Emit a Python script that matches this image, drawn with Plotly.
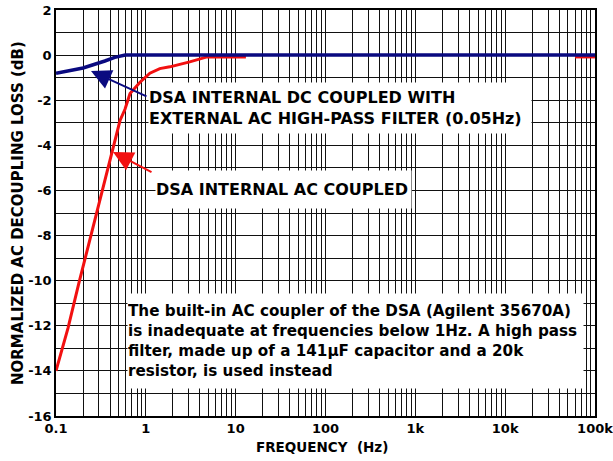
import math
import plotly.graph_objects as go

# ---- data ----
dc_freq = [0.1, 0.2, 0.35, 0.45, 0.59, 1, 10, 100, 1000, 10000, 100000]
dc_loss = [-0.8, -0.57, -0.26, -0.1, 0.0, 0.0, 0.0, 0.0, 0.0, 0.0, 0.0]

ac_freq = [0.1, 0.136, 0.18, 0.239, 0.317, 0.42, 0.516, 0.586, 0.667, 0.861,
           1.11, 1.43, 1.85, 3.08, 4.8, 13, None, 60000, 100000]
ac_loss = [-14.0, -12.1, -10.1, -8.15, -6.2, -4.2, -2.9, -2.4, -1.7, -1.2,
           -0.8, -0.6, -0.52, -0.3, -0.08, -0.08, None, -0.08, -0.08]

decades = [0.1, 1, 10, 100, 1000, 10000, 100000]
decade_labels = ["0.1", "1", "10", "100", "1k", "10k", "100k"]
y_ticks = list(range(-16, 3))
y_labels = [str(v) if v % 2 == 0 else "" for v in y_ticks]

label_dc = "DSA INTERNAL DC COUPLED WITH<br>EXTERNAL AC HIGH-PASS FILTER (0.05Hz)"
label_ac = "DSA INTERNAL AC COUPLED"
note = ("The built-in AC coupler of the DSA (Agilent 35670A)<br>"
        "is inadequate at frequencies below 1Hz. A high pass<br>"
        "filter, made up of a 141µF capacitor and a 20k<br>"
        "resistor, is used instead")

# x tick values: every 1..9 multiple per decade
x_ticks, x_text = [], []
for d, lab in zip(decades, decade_labels):
    mults = range(1, 10) if d < 100000 else [1]
    for m in mults:
        x_ticks.append(d * m)
        x_text.append(lab if m == 1 else "")

FONT = "DejaVu Sans"
NAVY = "#0a0a80"
RED = "#f21010"

fig = go.Figure()
fig.add_trace(go.Scatter(x=ac_freq, y=ac_loss, mode="lines",
                         line=dict(color=RED, width=3), connectgaps=False,
                         showlegend=False))
fig.add_trace(go.Scatter(x=dc_freq, y=dc_loss, mode="lines",
                         line=dict(color=NAVY, width=3.5), showlegend=False))

L, R, T, B = 56, 18, 10, 45
W, H = 613, 461
pw, ph = W - L - R, H - T - B


def px(xp):
    return (xp - L) / pw


def py(yp):
    return (H - B - yp) / ph


def dx(xp):
    return math.log10(0.1) + (xp - L) / pw * 6


def dy(yp):
    return 2 - (yp - T) / ph * 18


# text boxes
fig.add_annotation(xref="paper", yref="paper", x=px(148), y=py(82),
                   xanchor="left", yanchor="top", width=382, height=50,
                   text="<b>" + label_dc + "</b>", showarrow=False, align="left",
                   bgcolor="white", borderpad=0,
                   font=dict(family=FONT, size=16, color="black"))
fig.add_annotation(xref="paper", yref="paper", x=px(155), y=py(170),
                   xanchor="left", yanchor="top", width=255, height=37,
                   text="<b>" + label_ac + "</b>", showarrow=False, align="left",
                   bgcolor="white", borderpad=0,
                   font=dict(family=FONT, size=16, color="black"))
fig.add_annotation(xref="paper", yref="paper", x=px(127), y=py(293),
                   xanchor="left", yanchor="top", width=455, height=94,
                   text="<b>" + note + "</b>", showarrow=False, align="left",
                   bgcolor="white", borderpad=0,
                   font=dict(family=FONT, size=15.2, color="black"))

# arrows
fig.add_annotation(x=dx(91), y=dy(71), xref="x", yref="y", text="",
                   showarrow=True, arrowhead=2, arrowsize=2, arrowwidth=2,
                   arrowcolor=NAVY, ax=148 - 91, ay=97 - 71)
fig.add_annotation(x=dx(113), y=dy(152), xref="x", yref="y", text="",
                   showarrow=True, arrowhead=2, arrowsize=2, arrowwidth=2,
                   arrowcolor=RED, ax=153 - 113, ay=173 - 152)

# axis titles as free text
fig.add_annotation(xref="paper", yref="paper", x=px(322), y=py(447),
                   xanchor="center", yanchor="middle", showarrow=False,
                   text="<b>FREQUENCY  (Hz)</b>",
                   font=dict(family=FONT, size=13.5, color="black"))
fig.add_annotation(xref="paper", yref="paper", x=px(18), y=py(213),
                   xanchor="center", yanchor="middle", showarrow=False,
                   textangle=-90,
                   text="<b>NORMALIZED AC DECOUPLING LOSS (dB)</b>",
                   font=dict(family=FONT, size=15, color="black"))

tickfont = dict(family=FONT, size=13, color="black", weight="bold")
fig.update_layout(
    width=W, height=H,
    margin=dict(l=L, r=R, t=T, b=B),
    paper_bgcolor="white", plot_bgcolor="white",
    xaxis=dict(type="log", range=[-1, 5], tickvals=x_ticks, ticktext=x_text,
               showgrid=True, gridcolor="#111", gridwidth=1,
               showline=True, mirror=True, linecolor="black", linewidth=1.5,
               ticks="", tickfont=tickfont, zeroline=False, automargin=False,
               ticklabeloverflow="allow"),
    yaxis=dict(range=[-16, 2], tickvals=y_ticks, ticktext=y_labels,
               showgrid=True, gridcolor="#111", gridwidth=1,
               showline=True, mirror=True, linecolor="black", linewidth=1.5,
               ticks="", tickfont=tickfont, zeroline=False, automargin=False,
               ticklabeloverflow="allow"),
)

fig.write_html("out.html", config={"displayModeBar": False},
               post_script="document.body.style.margin='0px';")
